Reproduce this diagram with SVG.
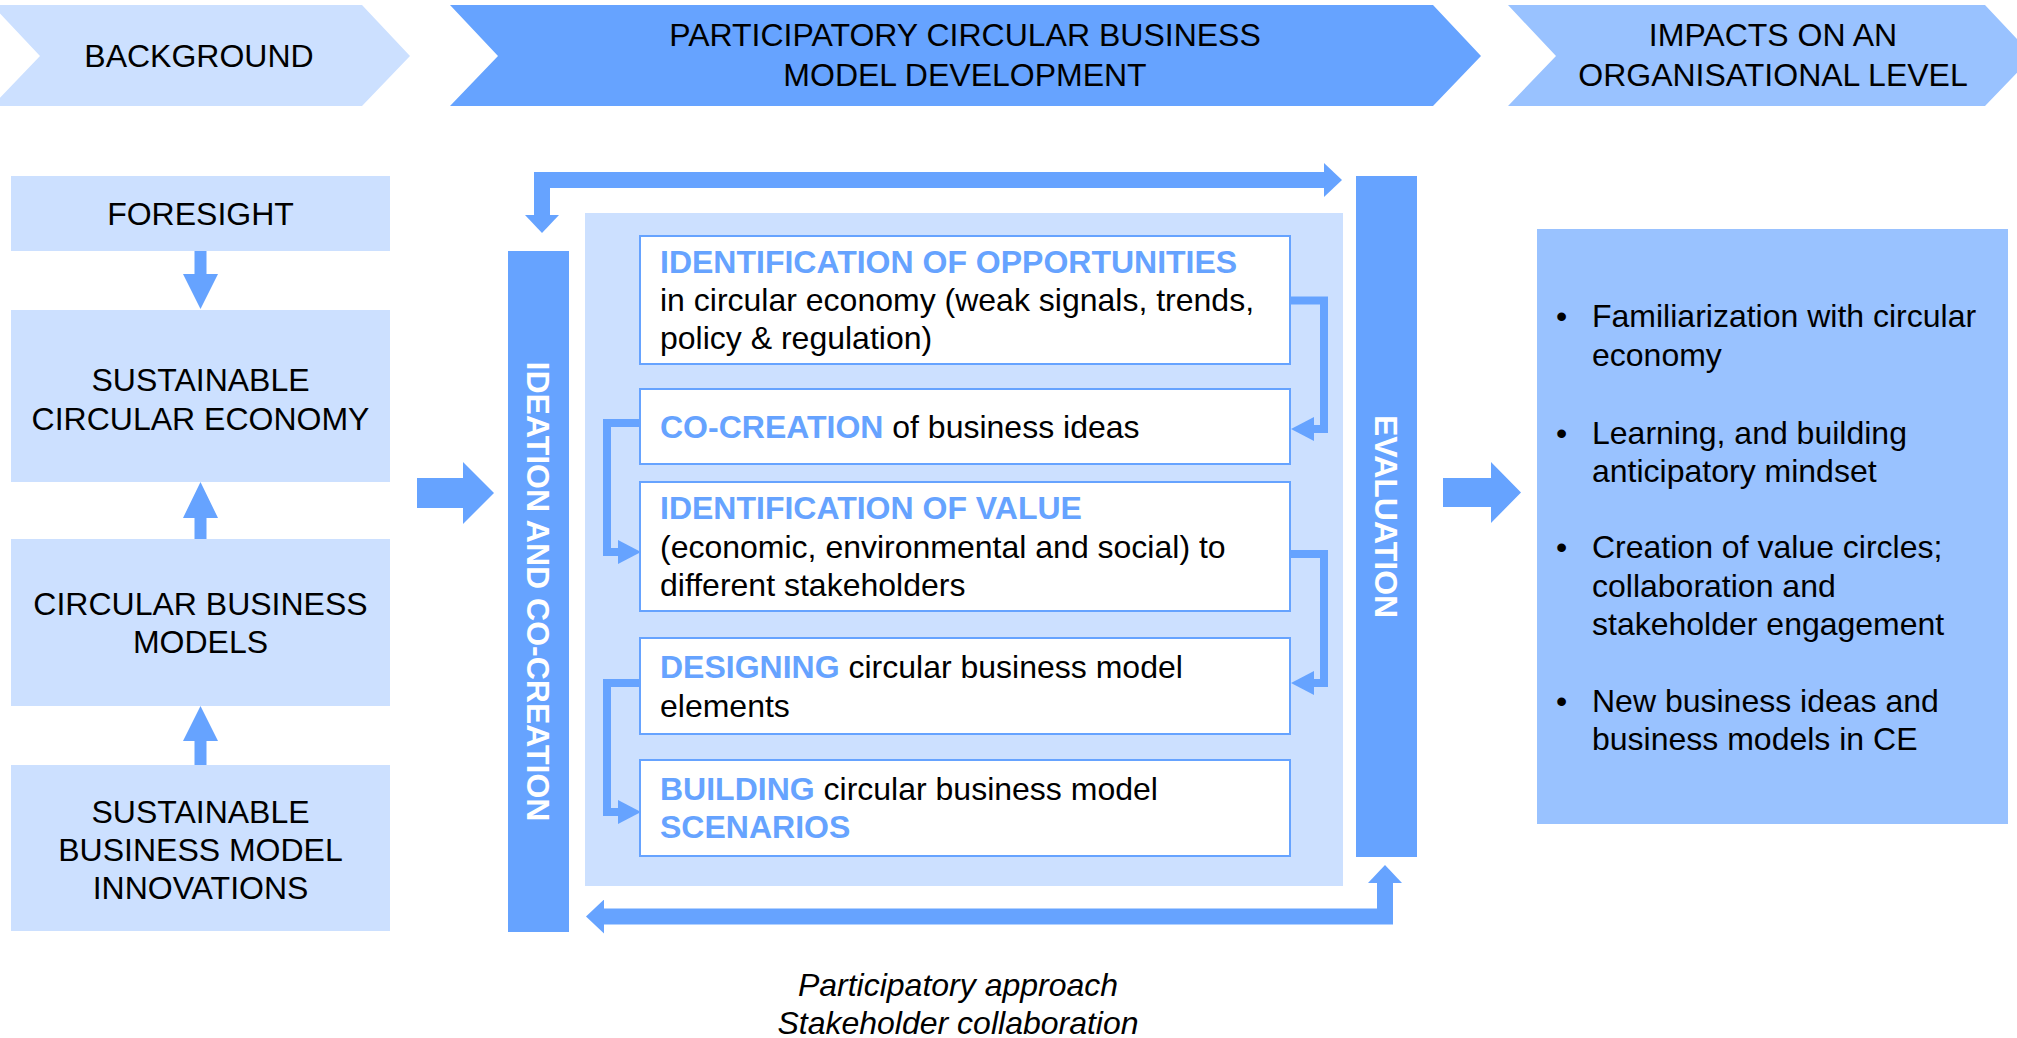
<svg xmlns="http://www.w3.org/2000/svg" width="2017" height="1038" viewBox="0 0 2017 1038">
  <style>
    text { font-family: "Liberation Sans", Arial, sans-serif; font-size: 32px; fill: #000; }
    .c { text-anchor: middle; }
    .hd { font-weight: bold; fill: #66a3ff; }
    .vt { font-weight: bold; fill: #fff; text-anchor: middle; }
    .it { font-style: italic; text-anchor: middle; }
    .pale { fill: #cce0ff; }
    .dark { fill: #66a3ff; }
    .mid { fill: #99c2ff; }
    .card { fill: #fff; stroke: #66a3ff; stroke-width: 2; }
    .thin { fill: none; stroke: #66a3ff; stroke-width: 8; marker-end: url(#tip); }
    .thick { fill: none; stroke: #66a3ff; stroke-width: 16; marker-start: url(#bigtip); marker-end: url(#bigtip); }
  </style>
  <defs>
    <marker id="tip" markerUnits="userSpaceOnUse" viewBox="0 0 23 24" markerWidth="23" markerHeight="24" refX="0" refY="12" orient="auto">
      <path d="M0,0 L23,12 L0,24 Z" fill="#66a3ff"/>
    </marker>
    <marker id="bigtip" markerUnits="userSpaceOnUse" viewBox="0 0 18 34" markerWidth="18" markerHeight="34" refX="0" refY="17" orient="auto-start-reverse">
      <path d="M0,0 L18,17 L0,34 Z" fill="#66a3ff"/>
    </marker>
  </defs>

  <!-- phase banners -->
  <g id="phase-background">
    <polygon class="pale" points="-8,5 362,5 410,56 362,106 -8,106 40,56"/>
    <text class="c" x="199" y="67">BACKGROUND</text>
  </g>
  <g id="phase-development">
    <polygon class="dark" points="450,5 1433,5 1481,56 1433,106 450,106 498,56"/>
    <text class="c" x="965" y="46">PARTICIPATORY CIRCULAR BUSINESS</text>
    <text class="c" x="965" y="86">MODEL DEVELOPMENT</text>
  </g>
  <g id="phase-impacts">
    <polygon class="mid" points="1508,5 1985,5 2033,56 1985,106 1508,106 1556,56"/>
    <text class="c" x="1773" y="46">IMPACTS ON AN</text>
    <text class="c" x="1773" y="86">ORGANISATIONAL LEVEL</text>
  </g>

  <!-- background column -->
  <g id="foresight">
    <rect class="pale" x="11" y="176" width="379" height="75"/>
    <text class="c" x="200.5" y="225">FORESIGHT</text>
  </g>
  <g id="sustainable-ce">
    <rect class="pale" x="11" y="310" width="379" height="172"/>
    <text class="c" x="200.5" y="391">SUSTAINABLE</text>
    <text class="c" x="200.5" y="430">CIRCULAR ECONOMY</text>
  </g>
  <g id="circular-bm">
    <rect class="pale" x="11" y="539" width="379" height="167"/>
    <text class="c" x="200.5" y="615">CIRCULAR BUSINESS</text>
    <text class="c" x="200.5" y="653">MODELS</text>
  </g>
  <g id="sbm-innovations">
    <rect class="pale" x="11" y="765" width="379" height="166"/>
    <text class="c" x="200.5" y="823">SUSTAINABLE</text>
    <text class="c" x="200.5" y="861">BUSINESS MODEL</text>
    <text class="c" x="200.5" y="899">INNOVATIONS</text>
  </g>

  <!-- development frame -->
  <g id="process-panel">
    <rect class="pale" x="585" y="213" width="758" height="673"/>
  </g>
  <g id="ideation">
    <rect class="dark" x="508" y="251" width="61" height="681"/>
    <text class="vt" transform="translate(538.5,591.5) rotate(90)" dy="0.36em">IDEATION AND CO-CREATION</text>
  </g>
  <g id="evaluation">
    <rect class="dark" x="1356" y="176" width="61" height="681"/>
    <text class="vt" transform="translate(1386.5,516.5) rotate(90)" dy="0.36em">EVALUATION</text>
  </g>

  <g id="step-opportunities">
    <rect class="card" x="640" y="236" width="650" height="128"/>
    <text class="hd" x="660" y="273">IDENTIFICATION OF OPPORTUNITIES</text>
    <text x="660" y="311">in circular economy (weak signals, trends,</text>
    <text x="660" y="349">policy &amp; regulation)</text>
  </g>
  <g id="step-cocreation">
    <rect class="card" x="640" y="389" width="650" height="75"/>
    <text x="660" y="438"><tspan class="hd">CO-CREATION</tspan> of business ideas</text>
  </g>
  <g id="step-value">
    <rect class="card" x="640" y="482" width="650" height="129"/>
    <text class="hd" x="660" y="519">IDENTIFICATION OF VALUE</text>
    <text x="660" y="558">(economic, environmental and social) to</text>
    <text x="660" y="596">different stakeholders</text>
  </g>
  <g id="step-designing">
    <rect class="card" x="640" y="638" width="650" height="96"/>
    <text x="660" y="678"><tspan class="hd">DESIGNING</tspan> circular business model</text>
    <text x="660" y="717">elements</text>
  </g>
  <g id="step-building">
    <rect class="card" x="640" y="760" width="650" height="96"/>
    <text x="660" y="800"><tspan class="hd">BUILDING</tspan> circular business model</text>
    <text class="hd" x="660" y="838">SCENARIOS</text>
  </g>

  <!-- impacts -->
  <g id="impacts">
    <rect class="mid" x="1537" y="229" width="471" height="595"/>
    <text x="1556" y="327">•</text>
    <text x="1592" y="327">Familiarization with circular</text>
    <text x="1592" y="366">economy</text>
    <text x="1556" y="444">•</text>
    <text x="1592" y="444">Learning, and building</text>
    <text x="1592" y="482">anticipatory mindset</text>
    <text x="1556" y="558">•</text>
    <text x="1592" y="558">Creation of value circles;</text>
    <text x="1592" y="597">collaboration and</text>
    <text x="1592" y="635">stakeholder engagement</text>
    <text x="1556" y="712">•</text>
    <text x="1592" y="712">New business ideas and</text>
    <text x="1592" y="750">business models in CE</text>
  </g>

  <g id="approach-note">
    <text class="it" x="958" y="996">Participatory approach</text>
    <text class="it" x="958" y="1034">Stakeholder collaboration</text>
  </g>

  <!-- connectors -->
  <g id="connectors">
    <!-- background column arrows -->
    <polygon class="dark" points="194.5,251 206.5,251 206.5,274 218,274 200.5,309 183,274 194.5,274"/>
    <polygon class="dark" points="194.5,539 206.5,539 206.5,518 218,518 200.5,482 183,518 194.5,518"/>
    <polygon class="dark" points="194.5,765 206.5,765 206.5,741 218,741 200.5,706 183,741 194.5,741"/>
    <!-- phase transitions -->
    <polygon class="dark" points="417,478 463,478 463,462 494,493 463,524 463,508 417,508"/>
    <polygon class="dark" points="1443,478 1491,478 1491,462 1521,492.5 1491,523 1491,507 1443,507"/>
    <!-- feedback loop between ideation and evaluation -->
    <path class="thick" d="M542,215 V180 H1324"/>
    <path class="thick" d="M1385,883 V916.5 H604"/>
    <!-- step sequence -->
    <path class="thin" d="M1291,300.5 H1324 V429 H1314"/>
    <path class="thin" d="M639,423 H607 V552 H618"/>
    <path class="thin" d="M1291,554 H1324 V683 H1314"/>
    <path class="thin" d="M639,683 H607 V812 H618"/>
  </g>
</svg>
